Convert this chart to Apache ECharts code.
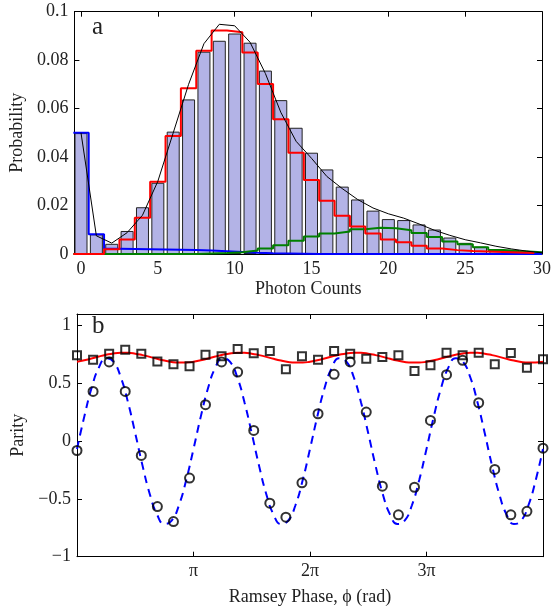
<!DOCTYPE html>
<html><head><meta charset="utf-8">
<script src="https://cdn.jsdelivr.net/npm/echarts@6/dist/echarts.min.js"></script>
<style>html,body{margin:0;padding:0;background:#fff}#c{width:554px;height:608px}</style>
</head><body><div id="c"></div>
<script>
// ---------- Panel a: photon-count histogram ----------
const counts = [0,1,2,3,4,5,6,7,8,9,10,11,12,13,14,15,16,17,18,19,20,21,22,23,24,25,26,27,28,29];
const histogram = [0.0499,0.0081,0.0042,0.0095,0.0193,0.0294,0.0505,0.0638,0.0835,0.0880,0.0910,0.0872,0.0757,0.0635,0.0521,0.0418,0.0349,0.0278,0.0225,0.0179,0.0144,0.0140,0.0122,0.0101,0.0068,0.0046,0.0030,0.0019,0.0012,0.0008];
const fitCounts = [0,1,2,3,4,5,6,7,8,9,10,11,12,13,14,15,16,17,18,19,20,21,22,23,24,25,26,27,28,29,30];
const fitTotal = [0.0500,0.0075,0.0045,0.0088,0.0160,0.0300,0.0500,0.0700,0.0868,0.0948,0.0942,0.0874,0.0745,0.0585,0.0465,0.0395,0.0320,0.0270,0.0225,0.0190,0.0166,0.0148,0.0124,0.0098,0.0077,0.0059,0.0046,0.0032,0.0021,0.0012,0.0005];
const stairsRed = [0,0,0.0020,0.0060,0.0150,0.0298,0.0487,0.0684,0.0839,0.0922,0.0915,0.0832,0.0702,0.0556,0.0418,0.0305,0.0220,0.0158,0.0113,0.0085,0.0060,0.0048,0.0034,0.0023,0.0016,0.0012,0.0010,0.0008,0.0006,0.0004];
const stairsBlue = [0.0500,0.0081,0.0022,0.0021,0.0020,0.0019,0.0018,0.0016,0.0014,0.0011,0.0008,0.0005,0.0003,0.0002,0.0001,0,0,0,0,0,0,0,0,0,0,0,0,0,0,0];
const stairsGreen = [0,0,0,0,0,0,0,0,0.0002,0.0004,0.0007,0.0014,0.0023,0.0036,0.0055,0.0072,0.0085,0.0093,0.0102,0.0108,0.0106,0.0098,0.0087,0.0070,0.0052,0.0040,0.0028,0.0017,0.0012,0.0007];
const countTicks = [0,5,10,15,20,25,30];
const probTicks = [0,0.02,0.04,0.06,0.08,0.1];

// ---------- Panel b: parity vs Ramsey phase ----------
const phasePi = [0,0.138,0.276,0.414,0.552,0.690,0.828,0.966,1.103,1.241,1.379,1.517,1.655,1.793,1.931,2.069,2.207,2.345,2.483,2.621,2.759,2.897,3.034,3.172,3.310,3.448,3.586,3.724,3.862,4.0];
const paritySquares = [0.743,0.705,0.757,0.791,0.757,0.690,0.665,0.647,0.748,0.734,0.797,0.760,0.780,0.621,0.734,0.705,0.780,0.757,0.713,0.728,0.743,0.607,0.656,0.765,0.743,0.765,0.665,0.762,0.635,0.708];
const parityCircles = [-0.081,0.430,0.685,0.430,-0.124,-0.566,-0.696,-0.320,0.315,0.685,0.598,0.093,-0.537,-0.658,-0.361,0.237,0.578,0.685,0.251,-0.390,-0.638,-0.399,0.179,0.575,0.699,0.332,-0.245,-0.638,-0.607,-0.061];
const fitPhaseStepPi = 1/16;
const fitBlue = [-0.068,0.212,0.459,0.636,0.717,0.688,0.555,0.337,0.068,-0.212,-0.459,-0.636,-0.717,-0.688,-0.555,-0.337,
 -0.068,0.212,0.459,0.636,0.717,0.688,0.555,0.337,0.068,-0.212,-0.459,-0.636,-0.717,-0.688,-0.555,-0.337,
 -0.068,0.212,0.459,0.636,0.717,0.688,0.555,0.337,0.068,-0.212,-0.459,-0.636,-0.717,-0.688,-0.555,-0.337,
 -0.068,0.212,0.459,0.636,0.717,0.688,0.555,0.337,0.068,-0.212,-0.459,-0.636,-0.717,-0.688,-0.555,-0.337,-0.068];
const fitRed = [0.687,0.700,0.715,0.732,0.747,0.759,0.764,0.764,0.757,0.744,0.729,0.712,0.697,0.685,0.680,0.680,
 0.687,0.700,0.715,0.732,0.747,0.759,0.764,0.764,0.757,0.744,0.729,0.712,0.697,0.685,0.680,0.680,
 0.687,0.700,0.715,0.732,0.747,0.759,0.764,0.764,0.757,0.744,0.729,0.712,0.697,0.685,0.680,0.680,
 0.687,0.700,0.715,0.732,0.747,0.759,0.764,0.764,0.757,0.744,0.729,0.712,0.697,0.685,0.680,0.680,0.687];
const phaseTicksPi = [1,2,3];
const parityTicks = [-1,-0.5,0,0.5,1];

// ---------- build ----------
const PI = Math.PI;
const FONT = 'Liberation Serif';
const txt = {fontFamily: FONT, fontSize: 18, color: '#222'};
const axLine = {show: true, onZero: false, lineStyle: {color: '#000', width: 1}};
function tick(vals){ return {show:true, inside:true, length:5, customValues: vals, lineStyle:{color:'#000', width:1}}; }
function stairs(arr, extend){
  const d = counts.map((c,i)=>[c-0.5, arr[i]]);
  d.push([extend, arr[arr.length-1]]);
  return d;
}
const phaseTicks = phaseTicksPi.map(k=>k*PI);
const minus = s => String(s).replace('-', '\u2212');

const option = {
  animation: false,
  backgroundColor: '#fff',
  grid: [
    {left: 71.5, top: 11.7, width: 472.5, height: 242.3},
    {left: 77, top: 314, width: 466, height: 242.7}
  ],
  xAxis: [
    {gridIndex:0, type:'value', min:-0.43, max:30, position:'bottom', axisLine:axLine, axisTick:tick(countTicks),
     axisLabel:Object.assign({customValues:countTicks, margin:6}, txt), splitLine:{show:false},
     name:'Photon Counts', nameLocation:'middle', nameGap:26, nameTextStyle:txt},
    {gridIndex:0, type:'value', min:-0.43, max:30, position:'top', axisLine:axLine, axisTick:tick(countTicks),
     axisLabel:{show:false}, splitLine:{show:false}},
    {gridIndex:1, type:'value', min:0, max:4*PI, position:'bottom', axisLine:axLine, axisTick:tick(phaseTicks),
     axisLabel:Object.assign({customValues:phaseTicks, margin:6, formatter: v => { const k = Math.round(v/PI); return k===1 ? '\u03c0' : k + '\u03c0'; }}, txt),
     splitLine:{show:false},
     name:'Ramsey Phase, \u03d5 (rad)', nameLocation:'middle', nameGap:32, nameTextStyle:txt},
    {gridIndex:1, type:'value', min:0, max:4*PI, position:'top', axisLine:axLine, axisTick:tick(phaseTicks),
     axisLabel:{show:false}, splitLine:{show:false}}
  ],
  yAxis: [
    {gridIndex:0, type:'value', min:0, max:0.1, position:'left', axisLine:axLine, axisTick:tick(probTicks),
     axisLabel:Object.assign({customValues:probTicks, margin:6, formatter: v => String(v)}, txt), splitLine:{show:false},
     name:'Probability', nameLocation:'middle', nameGap:45, nameRotate:90, nameTextStyle:txt},
    {gridIndex:0, type:'value', min:0, max:0.1, position:'right', axisLine:axLine, axisTick:tick(probTicks),
     axisLabel:{show:false}, splitLine:{show:false}},
    {gridIndex:1, type:'value', min:-1, max:1.1, position:'left', axisLine:axLine, axisTick:tick(parityTicks),
     axisLabel:Object.assign({customValues:parityTicks, margin:6, formatter: v => minus(v)}, txt), splitLine:{show:false},
     name:'Parity', nameLocation:'middle', nameGap:45, nameRotate:90, nameTextStyle:txt},
    {gridIndex:1, type:'value', min:-1, max:1.1, position:'right', axisLine:axLine, axisTick:tick(parityTicks),
     axisLabel:{show:false}, splitLine:{show:false}}
  ],
  graphic: [
    {type:'text', left:92, top:15, style:{text:'a', fontFamily:FONT, fontSize:25, fill:'#222'}},
    {type:'text', left:92, top:314, style:{text:'b', fontFamily:FONT, fontSize:25, fill:'#222'}}
  ],
  series: [
    {type:'bar', xAxisIndex:0, yAxisIndex:0, data: counts.map((c,i)=>[c, histogram[i]]), barWidth:13,
     itemStyle:{color:'#b3b3e6', borderColor:'#222', borderWidth:1}, silent:true, z:1},
    {type:'line', xAxisIndex:0, yAxisIndex:0, data: stairs(stairsBlue, 30), step:'end', showSymbol:false,
     lineStyle:{color:'#0000ff', width:2}, silent:true, z:2},
    {type:'line', xAxisIndex:0, yAxisIndex:0, data: stairs(stairsGreen, 30), step:'end', showSymbol:false,
     lineStyle:{color:'#008000', width:2}, silent:true, z:3},
    {type:'line', xAxisIndex:0, yAxisIndex:0, data: stairs(stairsRed, 29.5), step:'end', showSymbol:false,
     lineStyle:{color:'#ff0000', width:2}, silent:true, z:4},
    {type:'line', xAxisIndex:0, yAxisIndex:0, data: fitCounts.map((c,i)=>[c, fitTotal[i]]), showSymbol:false,
     lineStyle:{color:'#000', width:1}, silent:true, z:5},

    {type:'line', xAxisIndex:2, yAxisIndex:2, data: fitBlue.map((v,j)=>[j*fitPhaseStepPi*PI, v]), smooth:true, showSymbol:false,
     lineStyle:{color:'#0000ff', width:2, type:[8,6]}, silent:true, z:2},
    {type:'line', xAxisIndex:2, yAxisIndex:2, data: fitRed.map((v,j)=>[j*fitPhaseStepPi*PI, v]), smooth:true, showSymbol:false,
     lineStyle:{color:'#ff0000', width:2}, silent:true, z:3},
    {type:'scatter', xAxisIndex:2, yAxisIndex:2, data: phasePi.map((p,i)=>[p*PI, paritySquares[i]]), symbol:'rect', symbolSize:8,
     itemStyle:{color:'rgba(0,0,0,0)', borderColor:'#000', borderWidth:2}, silent:true, z:4},
    {type:'scatter', xAxisIndex:2, yAxisIndex:2, data: phasePi.map((p,i)=>[p*PI, parityCircles[i]]), symbol:'circle', symbolSize:9,
     itemStyle:{color:'rgba(0,0,0,0)', borderColor:'#000', borderWidth:2}, silent:true, z:5}
  ]
};
const chart = echarts.init(document.getElementById('c'), null, {renderer:'canvas'});
chart.setOption(option);
</script></body></html>
